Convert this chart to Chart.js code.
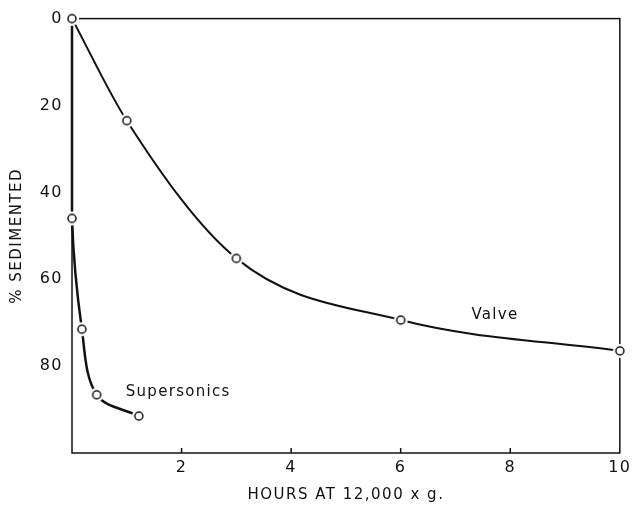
<!DOCTYPE html>
<html>
<head>
<meta charset="utf-8">
<script src="https://cdn.jsdelivr.net/npm/chart.js@4.4.0/dist/chart.umd.min.js"></script>
<style>
  html, body { margin: 0; padding: 0; background: #fff; }
  #wrap { width: 635px; height: 505px; }
</style>
</head>
<body>
<div id="wrap"><canvas id="sedChart"></canvas></div>
<script>
// Data (hours vs % sedimented)
var valveHours = [0, 1, 3, 6, 10];
var valveSed = [0, 23.5, 55.2, 69.4, 76.5];
var superHours = [0, 0, 0.18, 0.45, 1.22];
var superSed = [0, 46, 71.5, 86.6, 91.5];
var xTickLabels = [2, 4, 6, 8, 10];
var yTickLabels = [0, 20, 40, 60, 80];

// curve labels, placed in data units
var curveNotes = [
  { text: "Supersonics", x: 0.98, y: 86, align: "left" },
  { text: "Valve", x: 7.72, y: 68.2, align: "center" }
];

function toPts(xs, ys) {
  return xs.map(function (x, i) { return { x: x, y: ys[i] }; });
}

// open circle with a white halo so the line stops short of it
var dot = document.createElement("canvas");
dot.width = 18; dot.height = 18;
var dctx = dot.getContext("2d");
dctx.fillStyle = "#fff";
dctx.beginPath(); dctx.arc(9, 9, 7, 0, Math.PI * 2); dctx.fill();
dctx.strokeStyle = "#111";
dctx.lineWidth = 1.5;
dctx.beginPath(); dctx.arc(9, 9, 4, 0, Math.PI * 2); dctx.stroke();

var fontFam = "'DejaVu Sans', sans-serif";

var framePlugin = {
  id: "frame",
  beforeDraw: function (chart) {
    chart.ctx.letterSpacing = "1.5px";
  },
  beforeDatasetsDraw: function (chart) {
    var a = chart.chartArea, ctx = chart.ctx, xs = chart.scales.x;
    ctx.save();
    ctx.strokeStyle = "#111";
    ctx.lineWidth = 1.5;
    ctx.strokeRect(a.left, a.top, a.right - a.left, a.bottom - a.top);
    // inward tick marks on the hour axis
    xTickLabels.forEach(function (v) {
      if (v >= 10) return;
      var px = xs.getPixelForValue(v);
      ctx.beginPath();
      ctx.moveTo(px, a.bottom);
      ctx.lineTo(px, a.bottom - 5);
      ctx.stroke();
    });
    ctx.restore();
  },
  afterDatasetsDraw: function (chart) {
    var ctx = chart.ctx, xs = chart.scales.x, ys = chart.scales.y;
    ctx.save();
    ctx.letterSpacing = "1.3px";
    ctx.fillStyle = "#111";
    ctx.font = "15px " + fontFam;
    ctx.textBaseline = "middle";
    curveNotes.forEach(function (n) {
      ctx.textAlign = n.align;
      ctx.fillText(n.text, xs.getPixelForValue(n.x), ys.getPixelForValue(n.y));
    });
    ctx.restore();
  }
};

new Chart(document.getElementById("sedChart"), {
  type: "scatter",
  data: {
    datasets: [{
      label: "Valve",
      data: toPts(valveHours, valveSed),
      showLine: true,
      borderColor: "#111",
      borderWidth: 2,
      cubicInterpolationMode: "monotone",
      pointStyle: dot,
      clip: false
    }, {
      label: "Supersonics",
      data: toPts(superHours, superSed),
      showLine: true,
      borderColor: "#111",
      borderWidth: 2.5,
      tension: 0.35,
      pointStyle: dot,
      clip: false
    }]
  },
  options: {
    responsive: true,
    maintainAspectRatio: false,
    animation: false,
    events: [],
    layout: { padding: { top: 17, right: 11, left: 0, bottom: 0 } },
    plugins: {
      legend: { display: false },
      tooltip: { enabled: false }
    },
    scales: {
      x: {
        type: "linear",
        min: 0,
        max: 10,
        grid: { display: false, drawTicks: false },
        border: { display: false },
        afterBuildTicks: function (s) {
          s.ticks = xTickLabels.map(function (v) { return { value: v }; });
        },
        afterFit: function (s) { s.height = 52; },
        ticks: {
          color: "#111",
          padding: 5,
          font: { family: fontFam, size: 16 }
        },
        title: {
          display: true,
          text: "HOURS AT 12,000 x g.",
          color: "#111",
          padding: { top: 2, bottom: 1 },
          font: { family: fontFam, size: 15 }
        }
      },
      y: {
        type: "linear",
        reverse: true,
        min: 0,
        max: 100,
        grid: { display: false, drawTicks: false },
        border: { display: false },
        afterBuildTicks: function (s) {
          s.ticks = yTickLabels.map(function (v) { return { value: v }; });
        },
        afterFit: function (s) { s.width = 72; },
        ticks: {
          color: "#111",
          padding: 9,
          font: { family: fontFam, size: 16 }
        },
        title: {
          display: true,
          text: "% SEDIMENTED",
          color: "#111",
          padding: { top: 8 },
          font: { family: fontFam, size: 15 }
        }
      }
    }
  },
  plugins: [framePlugin]
});
</script>
</body>
</html>
